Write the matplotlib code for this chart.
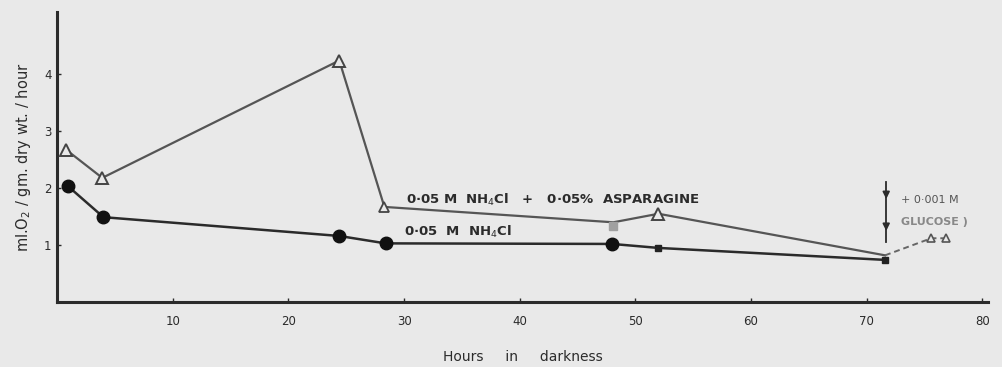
"""Oxygen uptake of leaf tissue kept in darkness (NH4Cl vs NH4Cl + asparagine)."""
import numpy as np
import matplotlib
matplotlib.use("Agg")
import matplotlib.pyplot as plt

# ---------------------------------------------------------------------
# data
# ---------------------------------------------------------------------
hours_asp = [0.8, 3.9, 24.4, 28.3, 48.1, 52.0, 71.6]
o2_asp = [2.67, 2.18, 4.24, 1.67, 1.40, 1.55, 0.82]

hours_nh4 = [0.9, 4.0, 24.4, 28.4, 48.0, 52.0, 71.6]
o2_nh4 = [2.04, 1.49, 1.16, 1.03, 1.02, 0.95, 0.74]

# after glucose addition (dashed continuation)
hours_glc = [71.6, 75.6, 76.9]
o2_glc = [0.82, 1.12, 1.12]

xticks = [10, 20, 30, 40, 50, 60, 70, 80]
xtick_labels = ["10", "20", "30", "40", "50", "60", "70", "80"]
yticks = [1, 2, 3, 4]

INK = "#2b2b2b"
BG = "#e9e9e9"

fig = plt.figure(figsize=(10.03, 3.67), dpi=100, facecolor=BG)
ax = fig.add_axes([0.057, 0.177, 0.928, 0.79], facecolor=BG)

# lines
ax.plot(hours_asp, o2_asp, color="#555555", lw=1.6, zorder=2)
ax.plot(hours_nh4, o2_nh4, color=INK, lw=1.8, zorder=2)
ax.plot(hours_glc, o2_glc, color="#666666", lw=1.4, ls=(0, (3, 2)), zorder=2)

# markers (the scan shows big symbols only at some points)
big_asp = [0, 1, 2, 5]
ax.plot([hours_asp[i] for i in big_asp], [o2_asp[i] for i in big_asp],
        ls="none", marker="^", ms=9, mfc=BG, mec="#444444", mew=1.4, zorder=3)
ax.plot(hours_asp[3], o2_asp[3], ls="none", marker="^", ms=7,
        mfc=BG, mec="#444444", mew=1.3, zorder=3)
ax.plot(hours_asp[4], o2_asp[4] - 0.06, ls="none", marker="s", ms=6,
        mfc="#a0a0a0", mec="#a0a0a0", zorder=3)
big_nh4 = [0, 1, 2, 3, 4]
ax.plot([hours_nh4[i] for i in big_nh4], [o2_nh4[i] for i in big_nh4],
        ls="none", marker="o", ms=9, mfc="#111111", mec="#111111", zorder=3)
ax.plot(hours_nh4[5:], o2_nh4[5:], ls="none", marker="s", ms=5,
        mfc="#222222", mec="#222222", zorder=3)
ax.plot(hours_glc[1:], o2_glc[1:], ls="none", marker="^", ms=6,
        mfc=BG, mec="#555555", mew=1.2, zorder=3)

ax.text(30.2, 1.79, "0·05 M  NH$_4$Cl   +   0·05%  ASPARAGINE", fontsize=9.5,
        color=INK, ha="left", va="center", fontweight="bold")
ax.text(30.0, 1.23, "0·05  M  NH$_4$Cl", fontsize=9.5, color=INK,
        ha="left", va="center", fontweight="bold")

# glucose addition marker
ax.plot([71.7, 71.7], [2.1, 1.05], color=INK, lw=1.3, zorder=2)
ax.annotate("", xy=(71.7, 1.76), xytext=(71.7, 1.95),
            arrowprops=dict(arrowstyle="-|>", color=INK, lw=1.3))
ax.annotate("", xy=(71.7, 1.2), xytext=(71.7, 1.4),
            arrowprops=dict(arrowstyle="-|>", color=INK, lw=1.3))
ax.text(73.0, 1.79, "+ 0·001 M", fontsize=8, color="#555555",
        ha="left", va="center")
ax.text(73.0, 1.4, "GLUCOSE )", fontsize=8, color="#888888",
        ha="left", va="center", fontweight="bold")

ax.set_xlim(0, 80.5)
ax.set_ylim(0, 5.09)
ax.set_xticks(xticks)
ax.set_xticklabels(xtick_labels)
ax.set_yticks(yticks)
ax.tick_params(direction="in", length=3, width=1, colors=INK,
               labelsize=8.5, pad=4)
ax.tick_params(axis="x", pad=9)

for side in ["top", "right"]:
    ax.spines[side].set_visible(False)
for side in ["left", "bottom"]:
    ax.spines[side].set_linewidth(2.2)
    ax.spines[side].set_color(INK)

ax.set_ylabel("ml.O$_2$ / gm. dry wt. / hour", fontsize=10.5, color=INK,
              labelpad=8)
ax.set_xlabel("Hours     in     darkness", fontsize=10, color=INK,
              labelpad=16)

fig.savefig("out.png", dpi=100, facecolor=BG)
